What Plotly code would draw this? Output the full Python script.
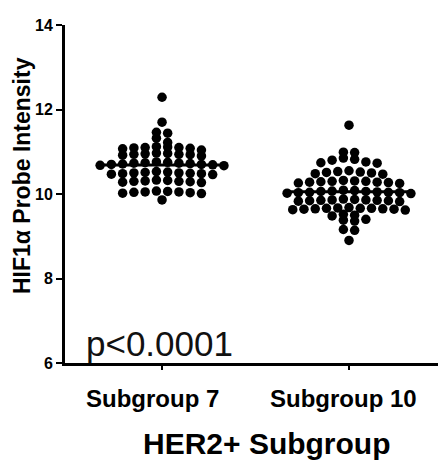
import plotly.graph_objects as go
import numpy as np

categories = ["Subgroup 7", "Subgroup 10"]

subgroup7 = [12.29, 11.70, 11.46, 11.44, 11.32, 11.22,
             11.08, 11.10, 11.12, 11.09, 11.11, 11.07, 11.10, 11.04,
             10.92, 10.93, 10.95, 10.94, 10.97, 10.96, 10.90, 10.94,
             10.75, 10.70, 10.73, 10.68, 10.74, 10.71, 10.69, 10.76, 10.72, 10.67, 10.73, 10.70,
             10.50, 10.48, 10.52, 10.47, 10.49, 10.51, 10.46, 10.50, 10.48, 10.53,
             10.31, 10.28, 10.32, 10.29, 10.30, 10.33, 10.27, 10.30,
             10.05, 10.02, 10.06, 10.03, 10.04, 10.07, 10.01, 10.05,
             9.86]

subgroup10 = [11.63,
              10.99, 10.98,
              10.85, 10.80, 10.73, 10.76, 10.82, 10.74,
              10.50, 10.52, 10.55, 10.47, 10.51, 10.53, 10.48,
              10.28, 10.26, 10.30, 10.27, 10.29, 10.31, 10.25, 10.28, 10.32, 10.30,
              10.06, 10.03, 10.08, 10.04, 10.02, 10.07, 10.05, 10.01, 10.09, 10.04, 10.06, 10.03,
              9.86, 9.84, 9.87, 9.83, 9.85, 9.88, 9.82, 9.86, 9.84, 9.85,
              9.66, 9.64, 9.67, 9.63, 9.65, 9.68, 9.62, 9.66, 9.64, 9.65, 9.66,
              9.52, 9.50, 9.48,
              9.40, 9.38, 9.36,
              9.16, 9.14,
              8.90]

y_ticks = [6, 8, 10, 12, 14]
p_text = "p<0.0001"
y_title = "HIF1α Probe Intensity"
x_title = "HER2+ Subgroup"

FONT = "Liberation Sans, Arial, sans-serif"
SPACING = 0.0602  # horizontal step between dots in a row (x units)
ROW_TOL = 0.13


def swarm(values, center):
    vals = sorted(values, reverse=True)
    rows = []
    for v in vals:
        if rows and rows[-1][0] - v <= ROW_TOL:
            rows[-1].append(v)
        else:
            rows.append([v])
    xs, ys = [], []
    for row in rows:
        k = len(row)
        offs = [(i - (k - 1) / 2) * SPACING for i in range(k)]
        order = sorted(range(k), key=lambda i: abs(offs[i]))
        for v, idx in zip(row, order):
            xs.append(center + offs[idx])
            ys.append(v)
    return xs, ys


fig = go.Figure()
for i, vals in enumerate([subgroup7, subgroup10]):
    xs, ys = swarm(vals, i)
    fig.add_trace(go.Scatter(x=xs, y=ys, mode="markers",
                             marker=dict(size=9.5, color="black", line=dict(width=0)),
                             showlegend=False, hoverinfo="y"))
for i, vals in enumerate([subgroup7, subgroup10]):
    m = float(np.mean(vals))
    fig.add_trace(go.Scatter(x=[i - 0.345, i + 0.345], y=[m, m], mode="lines",
                             line=dict(color="black", width=3),
                             showlegend=False, hoverinfo="skip"))

cat_x = [-0.053, 0.968]
annotations = [
    dict(text=y_title, xref="paper", yref="paper", x=-0.1153, y=0.556,
         textangle=-90, showarrow=False, xanchor="center", yanchor="middle",
         font=dict(size=23, family=FONT, weight="bold")),
    dict(text=x_title, xref="paper", yref="paper", x=0.5416, y=-0.2367,
         showarrow=False, xanchor="center", yanchor="middle",
         font=dict(size=30, family=FONT, weight="bold")),
    dict(text=p_text, xref="paper", yref="paper", x=0.052, y=0.059,
         showarrow=False, xanchor="left", yanchor="middle",
         font=dict(size=35, family=FONT, color="#111111")),
]
for cx, cat in zip(cat_x, categories):
    annotations.append(dict(text=cat, xref="x", yref="paper", x=cx, y=-0.104,
                            showarrow=False, xanchor="center", yanchor="middle",
                            font=dict(size=24, family=FONT, weight="bold")))

fig.update_layout(
    width=438, height=462,
    margin=dict(l=65, r=0, t=25, b=99),
    paper_bgcolor="white", plot_bgcolor="white",
    font=dict(family=FONT, color="black"),
    xaxis=dict(range=[-0.519, 1.476], tickmode="array", tickvals=[0, 1],
               showticklabels=False, showgrid=False, zeroline=False,
               showline=True, linecolor="black", linewidth=3,
               ticks="outside", ticklen=4, tickwidth=2, tickcolor="black"),
    yaxis=dict(range=[6, 14], tickmode="array", tickvals=y_ticks,
               showgrid=False, zeroline=False,
               showline=True, linecolor="black", linewidth=3,
               ticks="outside", ticklen=6, tickwidth=2, tickcolor="black",
               tickfont=dict(size=16, family=FONT, weight="bold")),
    annotations=annotations,
)

fig.write_html("out.html")
